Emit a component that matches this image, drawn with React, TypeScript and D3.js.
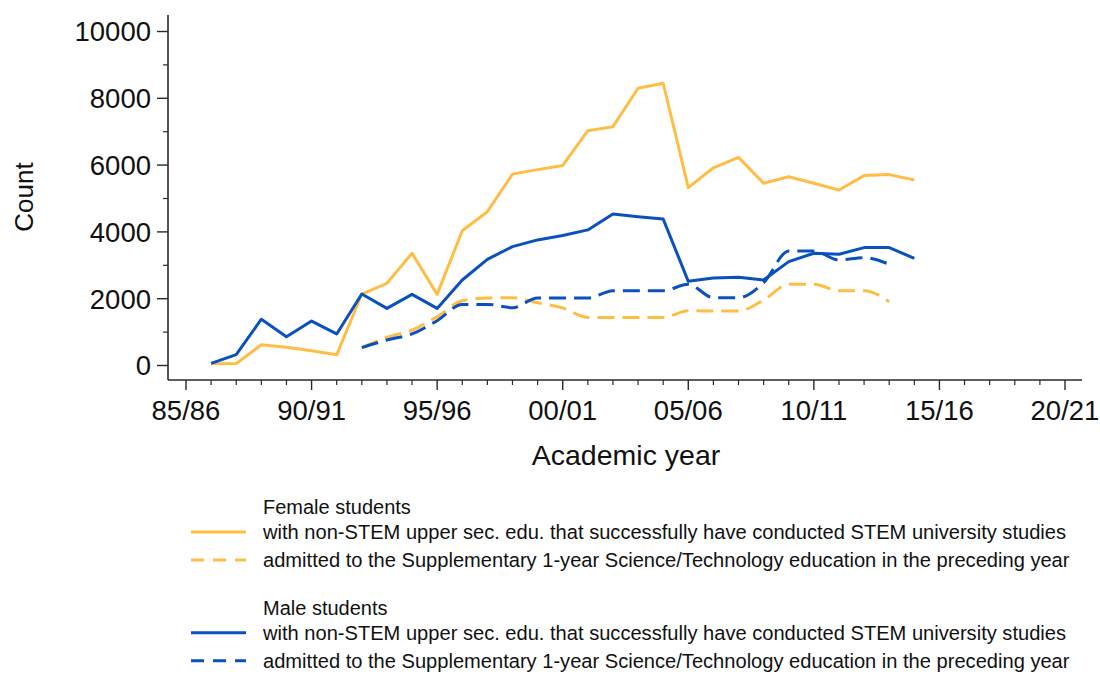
import React from "react";
import * as d3 from "d3";

// Academic years are keyed by their starting calendar year (1986 = 86/87)
const solidYears: number[] = d3.range(1986, 2015);
const dashedYears: number[] = d3.range(1992, 2014);

// Students with non-STEM upper secondary education who completed STEM university studies
const femaleCompleted: number[] = [
  50, 60, 620, 545, 440, 320, 2140, 2460, 3360, 2130, 4035, 4605, 5730, 5865, 5990,
  7030, 7150, 8300, 8450, 5325, 5920, 6230, 5455, 5650, 5455, 5255, 5685, 5715, 5555,
];
const maleCompleted: number[] = [
  65, 325, 1385, 860, 1330, 945, 2140, 1710, 2130, 1710, 2560, 3180, 3560, 3760, 3890,
  4060, 4535, 4455, 4385, 2520, 2620, 2640, 2560, 3110, 3360, 3330, 3530, 3530, 3210,
];

// Admitted to the supplementary 1-year Science/Technology education in the preceding year
const femaleAdmitted: number[] = [
  535, 845, 1060, 1460, 1940, 2020, 2030, 1880, 1720, 1440, 1440, 1440, 1440, 1640,
  1630, 1630, 1960, 2430, 2430, 2240, 2240, 1910,
];
const maleAdmitted: number[] = [
  535, 765, 945, 1340, 1830, 1830, 1730, 2020, 2020, 2020, 2240, 2240, 2240, 2430,
  2030, 2030, 2480, 3430, 3430, 3160, 3230, 3030,
];

const yTicks: number[] = [0, 2000, 4000, 6000, 8000, 10000];
const yMinorTicks: number[] = [1000, 3000, 5000, 7000, 9000];
const xMajorTicks: number[] = [1985, 1990, 1995, 2000, 2005, 2010, 2015, 2020];
const xMinorTicks: number[] = d3.range(1986, 2020).filter((y) => y % 5 !== 0);

const ORANGE = "#FEBE45";
const BLUE = "#0A50BF";
const AXIS = "#2a2a2a";
const FONT = "'Liberation Sans', Arial, Helvetica, sans-serif";

const legendGroups = [
  {
    title: "Female students",
    color: ORANGE,
    rows: [
      "with non-STEM upper sec. edu. that successfully have conducted STEM university studies",
      "admitted to the Supplementary 1-year Science/Technology education in the preceding year",
    ],
  },
  {
    title: "Male students",
    color: BLUE,
    rows: [
      "with non-STEM upper sec. edu. that successfully have conducted STEM university studies",
      "admitted to the Supplementary 1-year Science/Technology education in the preceding year",
    ],
  },
];

const fmtYear = (y: number) => {
  const a = String(y % 100).padStart(2, "0");
  const b = String((y + 1) % 100).padStart(2, "0");
  return `${a}/${b}`;
};

export default function App() {
  const x = d3.scaleLinear().domain([1985, 2020]).range([186, 1065]);
  const y = d3.scaleLinear().domain([0, 10000]).range([365.5, 31.5]);

  const axisLeft = 168;
  const axisBottom = 380;

  const solidLine = d3
    .line<[number, number]>()
    .x((d) => x(d[0]))
    .y((d) => y(d[1]));
  const dashedLine = d3
    .line<[number, number]>()
    .x((d) => x(d[0]))
    .y((d) => y(d[1]))
    .curve(d3.curveMonotoneX);

  const zip = (years: number[], vals: number[]) =>
    years.map((yr, i) => [yr, vals[i]] as [number, number]);

  const series = [
    { d: solidLine(zip(solidYears, femaleCompleted)), color: ORANGE, dash: undefined },
    { d: dashedLine(zip(dashedYears, femaleAdmitted)), color: ORANGE, dash: "17 8" },
    { d: solidLine(zip(solidYears, maleCompleted)), color: BLUE, dash: undefined },
    { d: dashedLine(zip(dashedYears, maleAdmitted)), color: BLUE, dash: "17 8" },
  ];

  const legendTop = 514;
  const rowStep = 28;

  return (
    <svg
      width={1100}
      height={675}
      style={{ position: "absolute", left: 0, top: 0, background: "#fff" }}
      fontFamily={FONT}
    >
      {/* axes */}
      <line x1={axisLeft} y1={15} x2={axisLeft} y2={axisBottom} stroke={AXIS} strokeWidth={1.6} />
      <line x1={axisLeft} y1={axisBottom} x2={1082} y2={axisBottom} stroke={AXIS} strokeWidth={1.6} />

      {yTicks.map((t) => (
        <g key={`yt${t}`}>
          <line x1={axisLeft - 11} x2={axisLeft} y1={y(t)} y2={y(t)} stroke={AXIS} strokeWidth={1.4} />
          <text x={151} y={y(t)} dy="0.36em" textAnchor="end" fontSize={27.5} fill="#111">
            {t}
          </text>
        </g>
      ))}
      {yMinorTicks.map((t) => (
        <line key={`ym${t}`} x1={axisLeft - 5} x2={axisLeft} y1={y(t)} y2={y(t)} stroke={AXIS} strokeWidth={1.2} />
      ))}

      {xMajorTicks.map((t) => (
        <g key={`xt${t}`}>
          <line x1={x(t)} x2={x(t)} y1={axisBottom} y2={axisBottom + 10} stroke={AXIS} strokeWidth={1.4} />
          <text x={x(t)} y={420} textAnchor="middle" fontSize={27.5} fill="#111">
            {fmtYear(t)}
          </text>
        </g>
      ))}
      {xMinorTicks.map((t) => (
        <line key={`xm${t}`} x1={x(t)} x2={x(t)} y1={axisBottom} y2={axisBottom + 5} stroke={AXIS} strokeWidth={1.2} />
      ))}

      {/* axis titles */}
      <text x={626} y={465} textAnchor="middle" fontSize={28.5} fill="#111">
        Academic year
      </text>
      <text
        transform={`translate(33, 197) rotate(-90)`}
        textAnchor="middle"
        fontSize={26}
        fill="#111"
      >
        Count
      </text>

      {/* series */}
      {series.map((s, i) => (
        <path
          key={`s${i}`}
          d={s.d || ""}
          fill="none"
          stroke={s.color}
          strokeWidth={3}
          strokeDasharray={s.dash}
          strokeLinejoin="round"
        />
      ))}

      {/* legend */}
      {legendGroups.map((g, gi) => {
        const base = legendTop + gi * rowStep * 3.6;
        return (
          <g key={`lg${gi}`}>
            <text x={263} y={base} fontSize={20} fill="#111">
              {g.title}
            </text>
            {g.rows.map((label, ri) => {
              const cy = base + 18 + ri * rowStep;
              return (
                <g key={`lr${ri}`}>
                  <line
                    x1={191}
                    x2={246}
                    y1={cy}
                    y2={cy}
                    stroke={g.color}
                    strokeWidth={3}
                    strokeDasharray={ri === 1 ? "13 9" : undefined}
                  />
                  <text x={263} y={cy + 7} fontSize={20.1} fill="#111">
                    {label}
                  </text>
                </g>
              );
            })}
          </g>
        );
      })}
    </svg>
  );
}
